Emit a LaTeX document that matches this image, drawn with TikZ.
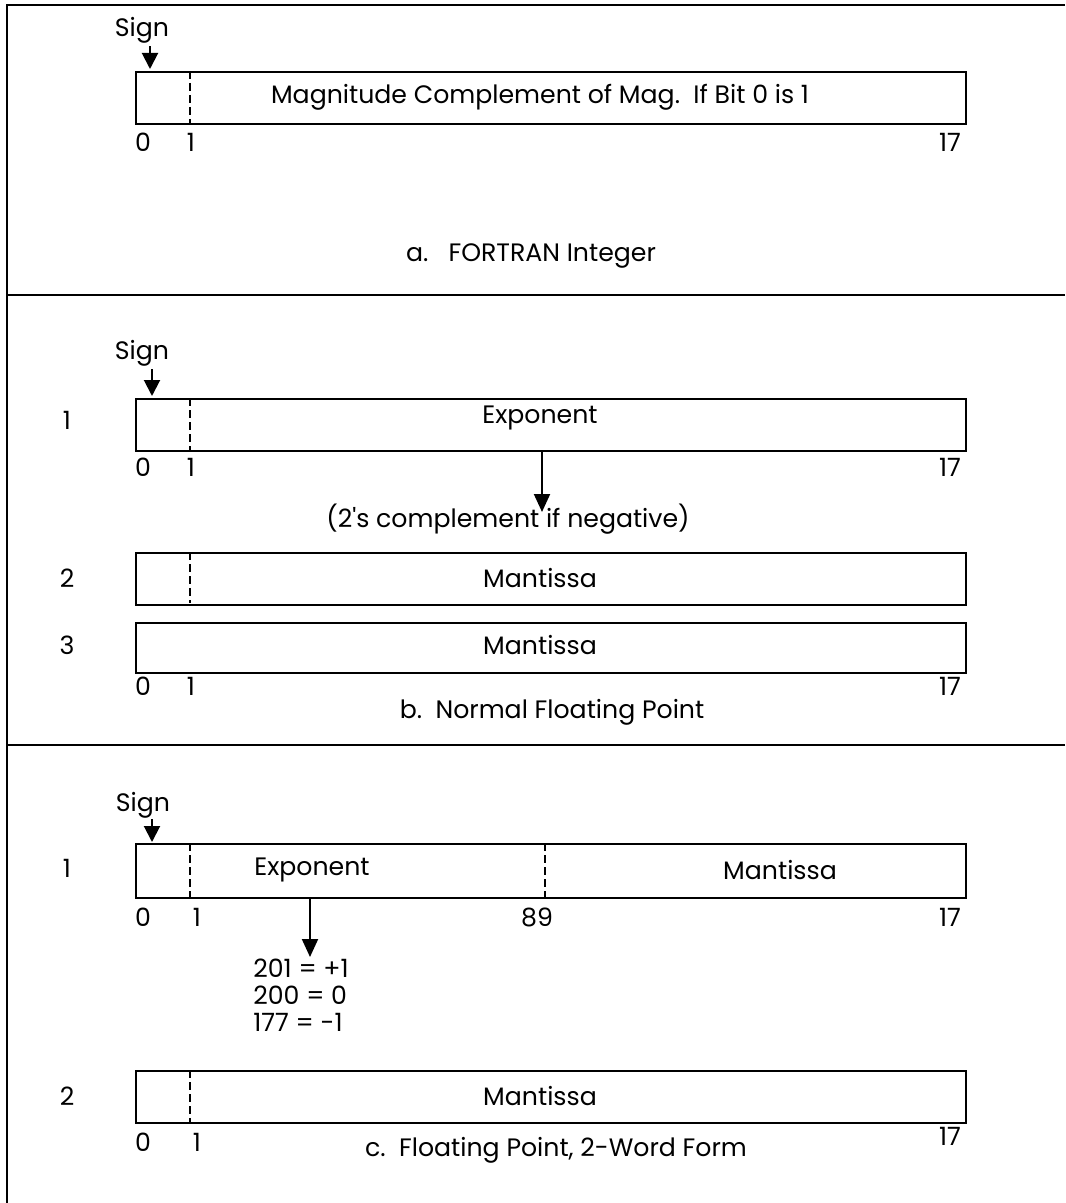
\documentclass[tikz,border=0pt]{standalone}
\usepackage{fontspec}
\setmainfont{Poppins}
\usetikzlibrary{arrows.meta}
\begin{document}
\begin{tikzpicture}[x=0.5pt,y=-0.5pt,
  every node/.style={font=\fontsize{12.6}{14}\selectfont, inner sep=0pt},
  frame/.style={line width=1.3pt},
  wordbox/.style={draw, line width=1pt, minimum width=415pt, minimum height=26pt, anchor=north west},
  divider/.style={dashed, line width=0.8pt, dash pattern=on 4pt off 2pt},
  signarrow/.style={line width=1pt, -{Triangle[width=8pt,length=8pt]}},
  valarrow/.style={line width=1pt, -{Triangle[width=8pt,length=9pt]}}
]
\useasboundingbox (0,0) rectangle (1065,1203);
% frame
\draw[frame] (7,1203) -- (7,5) -- (1065,5);
\draw[frame] (7,295) -- (1065,295);
\draw[frame] (7,745) -- (1065,745);

% ---------- a ----------
\node (signA) at (142,30) {Sign};
\node[wordbox] (boxA) at (135,71) {};
\draw[divider] (190,71) -- (190,124);
\node (txtA) at (540,97) {Magnitude Complement of Mag.\ \ If Bit 0 is 1};
\coordinate (sa) at (150,69);
\draw[signarrow] (signA.south -| sa) ++(0,3) -- (sa);
\node (a0) at (143,142) {0};
\node (a1) at (191,142) {1};
\node (a17) at (950,142) {17};
\node (capA) at (531,256) {a.\ \ \ FORTRAN Integer};

% ---------- b ----------
\node (signB) at (142,353) {Sign};
\node (rb1) at (67,420) {1};
\node[wordbox] (boxB1) at (135,398) {};
\draw[divider] (190,398) -- (190,450);
\node (expB) at (540,418) {Exponent};
\coordinate (sb) at (152,396);
\draw[signarrow] (signB.south -| sb) ++(0,3) -- (sb);
\node (b0) at (143,467) {0};
\node (b1) at (191,467) {1};
\node (b17) at (950,467) {17};
\node (cmpB) at (508,519) {(2\textquotesingle s complement if negative)};
\coordinate (eb) at (542,451);
\coordinate (ebt) at (542,512);
\draw[valarrow] (eb) -- (ebt);

\node (rb2) at (67,578) {2};
\node[wordbox] (boxB2) at (135,552) {};
\draw[divider] (190,552) -- (190,603);
\node (manB2) at (540,578) {Mantissa};

\node (rb3) at (67,645) {3};
\node[wordbox, minimum height=25pt] (boxB3) at (135,622) {};
\node (manB3) at (540,645) {Mantissa};
\node (b30) at (143,686) {0};
\node (b31) at (191,686) {1};
\node (b317) at (950,686) {17};
\node (capB) at (552,712) {b.\ \ Normal Floating Point};

% ---------- c ----------
\node (signC) at (143,805) {Sign};
\node (rc1) at (67,868) {1};
\node[wordbox, minimum height=27pt] (boxC1) at (135,843) {};
\draw[divider] (190,843) -- (190,897);
\draw[divider] (545,843) -- (545,897);
\node (expC) at (312,870) {Exponent};
\node (manC1) at (780,870) {Mantissa};
\coordinate (sc) at (152,842);
\draw[signarrow] (signC.south -| sc) ++(0,1) -- (sc);
\node (c0) at (143,917) {0};
\node (c1) at (197,917) {1};
\node (c89) at (537,917) {89};
\node (c17) at (950,917) {17};
\coordinate (ec) at (310,898);
\coordinate (ect) at (310,957);
\draw[valarrow] (ec) -- (ect);
\node[anchor=west] (v1) at (253,968) {201 = +1};
\node[anchor=west] (v2) at (253,995) {200 = 0};
\node[anchor=west] (v3) at (253,1022) {177 = -1};

\node (rc2) at (67,1096) {2};
\node[wordbox] (boxC2) at (135,1070) {};
\draw[divider] (190,1070) -- (190,1122);
\node (manC2) at (540,1096) {Mantissa};
\node (c20) at (143,1142) {0};
\node (c21) at (197,1142) {1};
\node (c217) at (950,1136) {17};
\node (capC) at (556,1150) {c.\ \ Floating Point, 2-Word Form};
\end{tikzpicture}
\end{document}
